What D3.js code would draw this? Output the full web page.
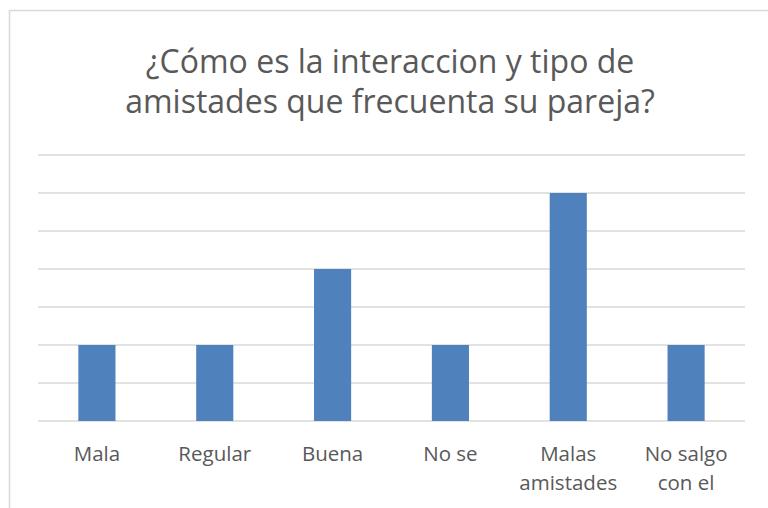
<!DOCTYPE html>
<html>
<head>
<meta charset="utf-8">
<script src="https://cdn.jsdelivr.net/npm/d3@7"></script>
<style>
  body { margin: 0; background: #fff; }
  text { font-family: "Open Sans", "Noto Sans", sans-serif; fill: #595959; }
</style>
</head>
<body>
<svg id="chart" width="768" height="508"></svg>
<script>
const categories = ["Mala", "Regular", "Buena", "No se", "Malas amistades", "No salgo con el"];
const labelLines = [["Mala"], ["Regular"], ["Buena"], ["No se"], ["Malas", "amistades"], ["No salgo", "con el"]];
const values = [2, 2, 4, 2, 6, 2];
const yTicks = [0, 1, 2, 3, 4, 5, 6, 7];
const titleLines = ["¿Cómo es la interaccion y tipo de", "amistades que frecuenta su pareja?"];

const svg = d3.select("#chart"),
      width = +svg.attr("width"),
      height = +svg.attr("height");

const margin = { top: 155, right: 23, bottom: 87, left: 38 };

// chart border
svg.append("rect")
  .attr("x", 9.5).attr("y", 10.5)
  .attr("width", 780).attr("height", 520)
  .attr("fill", "none")
  .attr("stroke", "#d9d9d9")
  .attr("stroke-width", 1.5);

svg.selectAll(".title")
  .data(titleLines)
  .join("text")
    .attr("class", "title")
    .attr("x", 390)
    .attr("y", (d, i) => 73 + i * 40)
    .attr("text-anchor", "middle")
    .style("font-size", "32px")
    .text(d => d);

const x = d3.scaleBand()
  .domain(categories)
  .range([margin.left, width - margin.right]);

const y = d3.scaleLinear()
  .domain([0, 7])
  .range([height - margin.bottom, margin.top]);

svg.selectAll(".grid")
  .data(yTicks)
  .join("line")
    .attr("class", "grid")
    .attr("x1", margin.left)
    .attr("x2", width - margin.right)
    .attr("y1", d => y(d))
    .attr("y2", d => y(d))
    .attr("stroke", "#d9d9d9")
    .attr("stroke-width", 1.5);

const barW = x.bandwidth() * 0.315;
svg.selectAll(".bar")
  .data(values)
  .join("rect")
    .attr("class", "bar")
    .attr("x", (d, i) => x(categories[i]) + x.bandwidth() / 2 - barW / 2)
    .attr("y", d => y(d))
    .attr("width", barW)
    .attr("height", d => y(0) - y(d))
    .attr("fill", "#4f81bd");

const labels = svg.selectAll(".xlabel")
  .data(labelLines)
  .join("text")
    .attr("class", "xlabel")
    .attr("text-anchor", "middle")
    .attr("y", 461)
    .style("font-size", "20.5px");

labels.selectAll("tspan")
  .data((d, i) => d.map(t => ({ t, i })))
  .join("tspan")
    .attr("x", d => x(categories[d.i]) + x.bandwidth() / 2)
    .attr("dy", (d, j) => j === 0 ? 0 : 29)
    .text(d => d.t);
</script>
</body>
</html>
